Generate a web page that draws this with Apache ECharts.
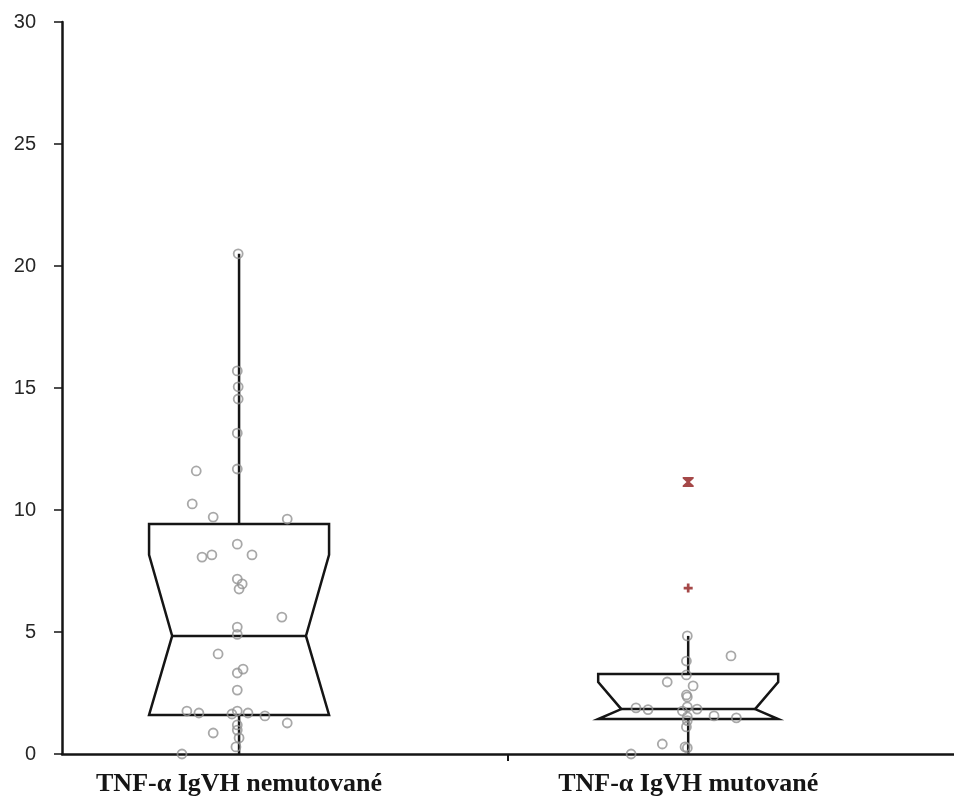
<!DOCTYPE html>
<html>
<head>
<meta charset="utf-8">
<script src="https://cdn.jsdelivr.net/npm/echarts@6/dist/echarts.min.js"></script>
<style>
  html, body { margin: 0; padding: 0; background: #fff; }
  #chart { width: 954px; height: 805px; }
</style>
</head>
<body>
<div id="chart"></div>
<script>
// Groups and their positions along the horizontal value axis (0..2, divider tick at 1)
const groupNames = ['TNF-α IgVH nemutované', 'TNF-α IgVH mutované'];
const groupPositions = [0.397, 1.404];

// Y axis range and step
const yMin = 0;
const yMax = 30;
const yStep = 5;

// Box statistics: [whiskerLow, q1, notchLow, median, notchHigh, q3, whiskerHigh]
const boxUnmutated = [0, 1.6, 1.6, 4.84, 8.16, 9.43, 20.5];
const boxMutated = [0, 1.43, 1.43, 1.84, 2.95, 3.28, 4.84];

// Individual measurements and their horizontal jitter (axis units)
const valuesUnmutated = [20.5, 15.7, 15.05, 14.55, 13.15, 11.68, 11.6, 10.25, 9.71, 9.63,
  8.6, 8.16, 8.07, 8.16, 7.17, 6.97, 6.76, 5.61, 5.2, 4.9, 4.1, 3.48, 3.32, 2.62,
  1.76, 1.68, 1.64, 1.76, 1.68, 1.56, 1.27, 1.19, 0.98, 0.66, 0.29, 0.86, 0.0];
const jitterUnmutated = [-0.002, -0.004, -0.002, -0.002, -0.004, -0.004, -0.096, -0.105, -0.058, 0.108,
  -0.004, -0.061, -0.083, 0.029, -0.004, 0.007, 0.0, 0.096, -0.004, -0.004, -0.047, 0.009, -0.004, -0.004,
  -0.117, -0.090, -0.016, -0.004, 0.020, 0.058, 0.108, -0.004, -0.004, 0.0, -0.007, -0.058, -0.128];

const valuesMutated = [4.84, 4.02, 3.81, 3.24, 2.95, 2.79, 2.42, 2.34, 1.93, 1.89, 1.82, 1.84,
  1.76, 1.56, 1.48, 1.52, 1.37, 1.11, 0.41, 0.29, 0.25, 0.0];
const jitterMutated = [-0.002, 0.096, -0.004, -0.004, -0.047, 0.011, -0.004, -0.002, -0.002, -0.117, -0.090, 0.020,
  -0.013, 0.058, 0.108, -0.002, -0.002, -0.004, -0.058, -0.007, -0.002, -0.128];

// Outlying values of the mutated group
const outliersMutated = [11.15, 6.8];

const BOX_HALF = 0.2018;   // half box width, axis units
const NOTCH_HALF = 0.150;  // half width at the median notch
const LINE_W = 2.5;

const boxData = [
  [groupPositions[0]].concat(boxUnmutated),
  [groupPositions[1]].concat(boxMutated)
];

function renderBox(params, api) {
  const c = api.value(0);
  const wl = api.value(1), q1 = api.value(2), nl = api.value(3), med = api.value(4),
        nh = api.value(5), q3 = api.value(6), wh = api.value(7);
  const P = (x, y) => api.coord([x, y]);
  const outline = [
    P(c - BOX_HALF, q3), P(c + BOX_HALF, q3), P(c + BOX_HALF, nh), P(c + NOTCH_HALF, med),
    P(c + BOX_HALF, nl), P(c + BOX_HALF, q1), P(c - BOX_HALF, q1), P(c - BOX_HALF, nl),
    P(c - NOTCH_HALF, med), P(c - BOX_HALF, nh)
  ];
  const stroke = { stroke: '#151515', lineWidth: LINE_W, fill: null };
  return {
    type: 'group',
    children: [
      { type: 'polygon', shape: { points: outline }, style: { stroke: '#151515', lineWidth: LINE_W, fill: 'rgba(0,0,0,0)', lineJoin: 'miter' } },
      { type: 'line', shape: { x1: P(c - NOTCH_HALF, med)[0], y1: P(c, med)[1], x2: P(c + NOTCH_HALF, med)[0], y2: P(c, med)[1] }, style: stroke },
      { type: 'line', shape: { x1: P(c, q3)[0], y1: P(c, q3)[1], x2: P(c, wh)[0], y2: P(c, wh)[1] }, style: stroke },
      { type: 'line', shape: { x1: P(c, q1)[0], y1: P(c, q1)[1], x2: P(c, wl)[0], y2: P(c, wl)[1] }, style: stroke }
    ]
  };
}

const pointData = valuesUnmutated.map((v, i) => [groupPositions[0] + jitterUnmutated[i], v])
  .concat(valuesMutated.map((v, i) => [groupPositions[1] + jitterMutated[i], v]));

// Bold hourglass-like cross and a plus for the two outliers
const crossPath = 'path://M0,0 L10,0 L10,1.5 L6.5,5 L10,8.5 L10,10 L0,10 L0,8.5 L3.5,5 L0,1.5 Z';
const plusPath = 'path://M3.5,0 H6.5 V3.5 H10 V6.5 H6.5 V10 H3.5 V6.5 H0 V3.5 H3.5 Z';

const chart = echarts.init(document.getElementById('chart'), null, { renderer: 'canvas' });
chart.setOption({
  animation: false,
  backgroundColor: '#fff',
  grid: { left: 62, right: 0, top: 22, bottom: 51, containLabel: false },
  xAxis: {
    type: 'value', min: 0, max: 2, interval: 1,
    splitLine: { show: false },
    axisLine: { show: true, lineStyle: { color: '#151515', width: 2.5 } },
    axisTick: { show: true, customValues: [1], length: 7, lineStyle: { color: '#151515', width: 2 } },
    axisLabel: {
      customValues: groupPositions,
      formatter: function (v) {
        let best = 0;
        groupPositions.forEach((p, i) => { if (Math.abs(p - v) < Math.abs(groupPositions[best] - v)) best = i; });
        return groupNames[best];
      },
      fontFamily: 'Liberation Serif', fontWeight: 'bold', fontSize: 26, color: '#151515', margin: 17
    }
  },
  yAxis: {
    type: 'value', min: yMin, max: yMax, interval: yStep,
    splitLine: { show: false },
    axisLine: { show: true, lineStyle: { color: '#151515', width: 2.5 } },
    axisTick: { show: true, length: 8, lineStyle: { color: '#151515', width: 1.5 } },
    axisLabel: { fontFamily: 'Liberation Sans', fontSize: 20, color: '#262626', margin: 26 }
  },
  series: [
    {
      type: 'custom', renderItem: renderBox, data: boxData,
      encode: { x: 0, y: [1, 2, 3, 4, 5, 6, 7] }, z: 2
    },
    {
      type: 'scatter', data: pointData, symbol: 'circle', symbolSize: 9, z: 3,
      itemStyle: { color: 'rgba(255,255,255,0)', borderColor: '#929292', borderWidth: 1.8 }
    },
    {
      type: 'scatter', z: 4,
      data: [
        { value: [groupPositions[1], outliersMutated[0]], symbol: crossPath, symbolSize: [11, 10] },
        { value: [groupPositions[1], outliersMutated[1]], symbol: plusPath, symbolSize: 9 }
      ],
      itemStyle: { color: '#8e1a1a' }
    }
  ]
});
</script>
</body>
</html>
